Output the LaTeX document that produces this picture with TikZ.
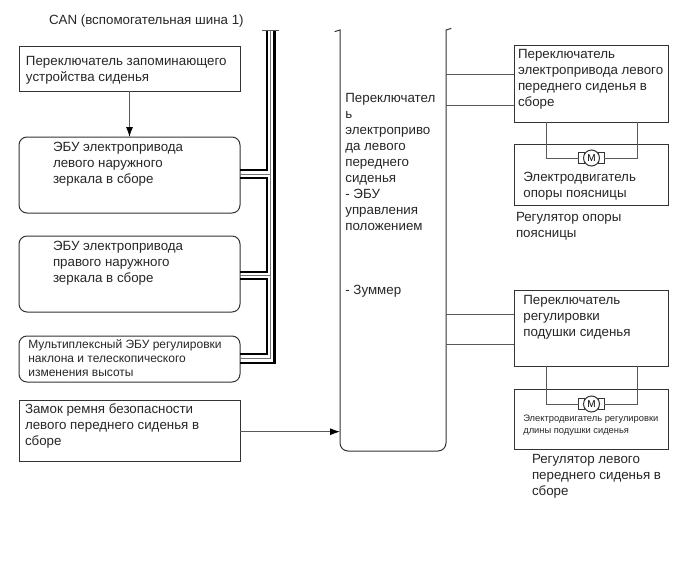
\documentclass[tikz,border=0pt]{standalone}
\usepackage{fontspec}
\setmainfont{Liberation Sans}
\usepackage{xcolor}
\colorlet{LINECOLOR}{black!80}
\colorlet{WIRECOLOR}{black!65}
\colorlet{TEXTCOLOR}{black!85}
\usepackage{tikz}
\usetikzlibrary{arrows.meta,positioning}
\tikzset{
  box-style/.style = {
    rectangle, draw=LINECOLOR, line width=0.75pt, outer sep=0pt, inner sep=0pt,
    minimum width=165.75pt
  },
  ecu-style/.style = {
    box-style, rounded corners=6pt
  },
  side-style/.style = {
    box-style, minimum width=115.5pt
  },
  text-style/.style = {
    inner sep=0pt, outer sep=0pt, align=left, text=TEXTCOLOR,
    font=\fontsize{10}{12}\selectfont
  },
  small-style/.style = {
    text-style, font=\fontsize{9}{10.5}\selectfont
  },
  tiny-style/.style = {
    text-style, font=\fontsize{7}{9}\selectfont
  },
  wire-style/.style = {
    draw=WIRECOLOR, line width=0.7pt
  },
  arrow-style/.style = {
    wire-style, -{Latex[length=7.5pt,width=5.25pt,black]}
  },
  bus-style/.style = {
    draw=black, line width=2pt
  },
  busmid-style/.style = {
    draw=black!55, line width=0.6pt
  },
  motor-style/.style = {
    circle, draw=LINECOLOR, line width=0.75pt, minimum size=12pt, inner sep=0pt,
    outer sep=0pt, font=\fontsize{7.5}{8}\selectfont
  },
  brush-style/.style = {
    rectangle, draw=LINECOLOR, line width=0.7pt, minimum width=4pt, minimum height=8.5pt,
    inner sep=0pt, outer sep=0pt
  }
}
\newcommand\createMotor[2]{
  \node[brush-style] (#1L) at ([xshift=-7.5pt]#2) {};
  \node[brush-style] (#1R) at ([xshift=7.5pt]#2) {};
  \node[motor-style,fill=white] (#1) at (#2) {M};
}

\begin{document}
\begin{tikzpicture}[x=0.75pt,y=-0.75pt]
    \useasboundingbox (0,0) rectangle (689,561);

    %%% left column
    \node[box-style,minimum height=33.75pt,anchor=north west] (memSw) at (19,46) {};
    \node[ecu-style,minimum height=57pt,below=34.5pt of memSw] (ecuLeft) {};
    \node[ecu-style,minimum height=57pt,below=17.25pt of ecuLeft] (ecuRight) {};
    \node[ecu-style,minimum height=34.5pt,below=18pt of ecuRight] (ecuMulti) {};
    \node[box-style,minimum height=45.75pt,below=13.5pt of ecuMulti] (beltLock) {};

    \node[text-style,anchor=north west] (canText) at (49,15) {CAN (вспомогательная шина 1)};
    \node[text-style,below right=7.5pt and 5.25pt of memSw.north west] (memSwText) {Переключатель запоминающего\\устройства сиденья};
    \node[text-style,below right=4pt and 25.5pt of ecuLeft.north west] (ecuLeftText) {ЭБУ электропривода\\левого наружного\\зеркала в сборе};
    \node[text-style,below right=4pt and 25.5pt of ecuRight.north west] (ecuRightText) {ЭБУ электропривода\\правого наружного\\зеркала в сборе};
    \node[small-style,below right=2.5pt and 7pt of ecuMulti.north west] (ecuMultiText) {Мультиплексный ЭБУ регулировки\\наклона и телескопического\\изменения высоты};
    \node[text-style,below right=2.5pt and 4.5pt of beltLock.north west] (beltLockText) {Замок ремня безопасности\\левого переднего сиденья в\\сборе};

    %%% main block
    \node[rectangle,outer sep=0pt,inner sep=0pt,minimum width=79.5pt,minimum height=315.75pt,anchor=north west] (mainBlock) at (340,30) {};
    \draw[box-style] ([xshift=-4pt,yshift=-1.2pt]mainBlock.north west) -- (mainBlock.north west)
      [rounded corners=6pt] -- (mainBlock.south west) -- (mainBlock.south east)
      [sharp corners] -- (mainBlock.north east) -- ([xshift=4pt,yshift=1.2pt]mainBlock.north east);
    \node[text-style,below right=47.5pt and 4pt of mainBlock.north west] (mainText) {Переключател\\ь\\электроприво\\да левого\\переднего\\сиденья\\- ЭБУ\\управления\\положением\\[36pt]- Зуммер};

    %%% right column
    \node[side-style,minimum height=57.75pt,anchor=north west] (seatSw) at (514,45) {};
    \node[side-style,minimum height=45.75pt,below=16.5pt of seatSw] (lumbarBox) {};
    \node[side-style,minimum height=57pt,anchor=north west] (cushionSw) at (514,290) {};
    \node[side-style,minimum height=45pt,below=17.25pt of cushionSw] (cushionBox) {};

    \node[text-style,below right=3.5pt and 3pt of seatSw.north west] (seatSwText) {Переключатель\\электропривода левого\\переднего сиденья в\\сборе};
    \node[text-style,below right=21pt and 7pt of lumbarBox.north west] (lumbarText) {Электродвигатель\\опоры поясницы};
    \node[text-style,below right=5.5pt and 1.5pt of lumbarBox.south west] (lumbarLabel) {Регулятор опоры\\поясницы};
    \node[text-style,below right=4pt and 7pt of cushionSw.north west] (cushionSwText) {Переключатель\\регулировки\\подушки сиденья};
    \node[tiny-style,below right=19.5pt and 7pt of cushionBox.north west] (cushionText) {Электродвигатель регулировки\\длины подушки сиденья};
    \node[text-style,below right=4pt and 13.5pt of cushionBox.south west] (cushionLabel) {Регулятор левого\\переднего сиденья в\\сборе};

    %%% motors
    \coordinate (lumbarPos) at (591.5,158);
    \coordinate (cushionPos) at (591.5,404);
    \createMotor{lumbarMotor}{lumbarPos}
    \createMotor{cushionMotor}{cushionPos}

    %%% bus
    \coordinate (busTopL) at (267,30);
    \coordinate (busTopM) at (270.8,30);
    \coordinate (busTopR) at (274.6,30);
    \coordinate (ecuLeftA) at ([yshift=3.75pt]ecuLeft.east);
    \coordinate (ecuLeftM) at ([yshift=0.75pt]ecuLeft.east);
    \coordinate (ecuLeftB) at ([yshift=-2.25pt]ecuLeft.east);
    \coordinate (ecuRightA) at ([yshift=1.5pt]ecuRight.east);
    \coordinate (ecuRightM) at ([yshift=-1.1pt]ecuRight.east);
    \coordinate (ecuRightB) at ([yshift=-3.75pt]ecuRight.east);
    \coordinate (ecuMultiA) at ([yshift=3.75pt]ecuMulti.east);
    \coordinate (ecuMultiM) at ([yshift=0.4pt]ecuMulti.east);
    \coordinate (ecuMultiB) at ([yshift=-3pt]ecuMulti.east);

    \draw[bus-style] (busTopL) |- (ecuLeftA);
    \draw[bus-style] (ecuLeftB) -- (ecuLeftB -| busTopL) -- (ecuRightA -| busTopL) -- (ecuRightA);
    \draw[bus-style] (ecuRightB) -- (ecuRightB -| busTopL) -- (ecuMultiA -| busTopL) -- (ecuMultiA);
    \draw[bus-style] (busTopR) |- (ecuMultiB);
    \draw[busmid-style] (busTopM) |- (ecuMultiM);
    \draw[busmid-style] (ecuLeftM) -- (ecuLeftM -| busTopM);
    \draw[busmid-style] (ecuRightM) -- (ecuRightM -| busTopM);
    \draw[wire-style] ([xshift=-3.5pt]busTopL) -- ([xshift=3.5pt]busTopR);

    %%% arrows
    \draw[arrow-style] (memSw.south) -- (ecuLeft.north);
    \draw[arrow-style] ([yshift=-0.9pt]beltLock.east) -- ([yshift=-0.9pt]beltLock.east -| mainBlock.west);

    %%% side wires
    \draw[wire-style] ([yshift=7.1pt]seatSw.west) -- ([yshift=7.1pt]seatSw.west -| mainBlock.east);
    \draw[wire-style] ([yshift=-16.1pt]seatSw.west) -- ([yshift=-16.1pt]seatSw.west -| mainBlock.east);
    \draw[wire-style] ([yshift=10.5pt]cushionSw.west) -- ([yshift=10.5pt]cushionSw.west -| mainBlock.east);
    \draw[wire-style] ([yshift=-12pt]cushionSw.west) -- ([yshift=-12pt]cushionSw.west -| mainBlock.east);
    \draw[wire-style] ([xshift=24pt]seatSw.south west) |- (lumbarMotorL.west);
    \draw[wire-style] ([xshift=-23.25pt]seatSw.south east) |- (lumbarMotorR.east);
    \draw[wire-style] ([xshift=24pt]cushionSw.south west) |- (cushionMotorL.west);
    \draw[wire-style] ([xshift=-23.25pt]cushionSw.south east) |- (cushionMotorR.east);
\end{tikzpicture}
\end{document}
